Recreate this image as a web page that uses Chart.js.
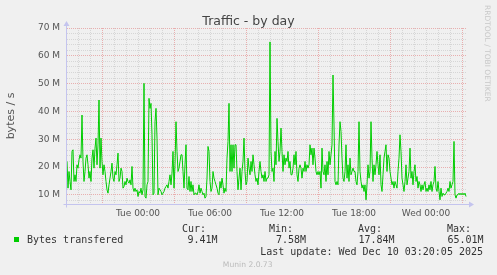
<!DOCTYPE html>
<html>
<head>
<meta charset="utf-8">
<title>Traffic - by day</title>
<script src="https://cdn.jsdelivr.net/npm/chart.js@4"></script>
<style>
  html, body { margin: 0; padding: 0; background: #f0f0f0; }
  #wrap { width: 497px; height: 275px; position: relative; }
</style>
</head>
<body>
<div id="wrap"><canvas id="traffic" width="497" height="275"></canvas></div>
<script>
// traffic.js - munin "Traffic - by day" graph

// 5 minute samples, in millions of bytes/s, from Mon 18:05 to Wed 03:20
const firstSampleMin = -355;   // minutes relative to Tue 00:00
const sampleStepMin = 5;
const bytesM = [
    22.0, 12.4, 18.4, 14.8, 11.8, 25.6, 26.2, 14.8, 17.2, 14.8, 20.8, 19.6, 22.6, 24.4, 23.2, 38.7,
    22.0, 14.8, 18.4, 23.2, 24.4, 20.8, 16.0, 18.4, 14.8, 23.2, 26.2, 19.6, 26.8, 30.4, 20.8, 28.0,
    44.1, 19.6, 30.4, 22.0, 17.2, 20.8, 18.4, 14.8, 11.8, 10.6, 13.6, 16.0, 18.4, 21.4, 16.0, 14.8,
    18.4, 17.2, 20.8, 25.0, 14.8, 16.0, 19.6, 18.4, 12.4,
    13.0, 14.8, 13.6, 16.0, 14.8, 14.2, 15.4, 13.6, 20.2, 12.4, 11.2, 12.4, 11.2, 11.8, 9.4, 11.2,
    10.6, 12.4, 10.0, 11.8, 50.1, 9.4, 8.8, 13.6, 14.8, 44.7, 41.1, 42.9, 31.6, 10.0, 10.6, 36.3,
    41.1, 30.4, 10.0, 12.4, 11.8, 11.2, 10.0, 10.6, 11.2, 12.4, 13.0, 13.6, 12.4, 14.8, 17.2, 13.6,
    17.8, 25.6, 12.4, 20.8, 36.3, 25.6, 18.4, 19.6, 22.0, 24.4,
    24.4, 18.4, 12.4, 20.8, 28.0, 12.4, 11.8, 16.6, 11.2, 14.8, 11.2, 13.6, 10.0, 10.6, 10.6, 10.0,
    11.2, 13.6, 10.6, 12.4, 11.2, 10.0, 10.6, 8.8, 9.4, 16.0, 27.4, 25.6, 14.8, 11.2, 12.4, 18.4,
    16.0, 14.8, 13.6, 12.4, 10.6, 10.0, 14.8, 12.4, 16.0, 13.6, 10.6, 12.4, 11.2, 23.2, 29.2, 42.9,
    18.4, 28.0, 18.4, 28.0, 19.6, 28.0, 28.0, 18.4, 11.8, 16.0,
    19.6, 11.8, 18.4, 22.0, 30.4, 18.4, 13.6, 14.8, 23.2, 19.6, 17.2, 22.0, 18.4, 24.4, 20.8, 17.2,
    14.8, 16.0, 13.6, 18.4, 22.0, 18.4, 16.0, 17.2, 14.8, 18.4, 14.8, 16.0, 16.0, 17.2, 65.0, 25.6,
    18.4, 19.6, 14.8, 25.6, 20.8, 37.5, 29.2, 22.0, 25.6, 34.0, 25.6, 18.4, 24.4, 20.8, 23.2, 22.0,
    25.6, 19.6, 22.0, 17.2, 17.2, 19.6, 24.4, 20.8, 25.6, 17.2,
    14.8, 19.6, 20.8, 19.6, 16.0, 19.6, 18.4, 22.0, 18.4, 20.8, 19.6, 20.8, 28.0, 24.4, 26.8, 20.8,
    26.8, 23.2, 18.4, 17.2, 18.4, 17.2, 18.4, 12.4, 26.8, 18.4, 17.2, 20.8, 14.8, 22.0, 17.2, 25.6,
    20.8, 24.4, 28.0, 53.1, 35.1, 14.8, 13.6, 14.8, 13.6, 28.0, 36.3, 32.8, 23.2, 16.0, 14.8, 18.4,
    28.0, 16.0, 20.8, 14.8, 23.2, 17.2, 18.4, 19.6, 18.4, 18.4,
    14.8, 13.6, 18.4, 36.3, 18.4, 14.8, 12.4, 13.6, 11.2, 13.6, 8.2, 13.6, 20.8, 16.0, 18.4, 36.3,
    23.2, 14.8, 20.8, 17.2, 20.8, 25.6, 20.8, 17.2, 24.4, 13.6, 11.2, 17.2, 23.2, 25.6, 28.0, 18.4,
    24.4, 23.2, 18.4, 16.0, 13.6, 14.8, 12.4, 14.8, 13.6, 12.4, 18.4, 23.2, 31.6, 25.6, 16.0, 13.6,
    11.2, 14.8, 20.8, 13.6, 16.0, 18.4, 26.8, 16.0, 18.4, 13.6,
    18.4, 20.8, 14.8, 16.6, 12.4, 14.8, 13.6, 11.2, 13.6, 11.8, 13.6, 14.8, 11.2, 12.4, 11.2, 13.6,
    11.8, 14.8, 11.2, 13.6, 14.8, 20.2, 12.4, 11.2, 14.8, 11.2, 8.2, 12.4, 9.4, 10.6, 10.0, 10.0,
    10.6, 11.2, 12.4, 11.2, 14.8, 12.4, 13.6, 14.8, 29.2, 10.0, 8.8, 10.0, 10.0, 10.6, 10.0, 10.6,
    10.0, 10.6, 10.0, 10.6, 9.4
];

const hourLabelTimes = [0, 360, 720, 1080, 1440];
const hourLabels = ['Tue 00:00', 'Tue 06:00', 'Tue 12:00', 'Tue 18:00', 'Wed 00:00'];
const yLabelValues = [10, 20, 30, 40, 50, 60, 70];

const seriesName = 'Bytes transfered';
const legendHeaders = ['Cur:', 'Min:', 'Avg:', 'Max:'];
const legendValues = ['9.41M', '7.58M', '17.84M', '65.01M'];
const lastUpdate = 'Last update: Wed Dec 10 03:20:05 2025';

const MINOR = 'rgba(140,140,140,0.26)';
const MAJOR = 'rgba(220,60,60,0.36)';
const AXIS = '#c4c4ee';

const points = bytesM.map((v, i) => ({ x: firstSampleMin + i * sampleStepMin, y: v }));

// axis lines, arrows, title and rrdtool style legend
const frame = {
    id: 'frame',
    afterDraw(chart) {
        const c = chart.ctx;
        const a = chart.chartArea;
        const ax = a.left - 0.5;
        const ay = a.bottom + 0.5;
        c.save();
        c.strokeStyle = AXIS;
        c.fillStyle = AXIS;
        c.lineWidth = 1;
        c.beginPath();
        c.moveTo(ax, ay + 3);
        c.lineTo(ax, a.top - 4);
        c.moveTo(ax - 3, ay);
        c.lineTo(a.right + 3, ay);
        c.stroke();
        c.beginPath();
        c.moveTo(ax, a.top - 7);
        c.lineTo(ax - 3, a.top - 2);
        c.lineTo(ax + 3, a.top - 2);
        c.closePath();
        c.fill();
        c.beginPath();
        c.moveTo(a.right + 7, ay);
        c.lineTo(a.right + 2, ay - 3);
        c.lineTo(a.right + 2, ay + 3);
        c.closePath();
        c.fill();

        c.fillStyle = '#444';
        c.font = '12.5px "DejaVu Sans"';
        c.textAlign = 'center';
        c.textBaseline = 'alphabetic';
        c.fillText('Traffic - by day', 248.5, 24.5);

        c.save();
        c.translate(485, 5);
        c.rotate(Math.PI / 2);
        c.font = '7.5px "DejaVu Sans"';
        c.fillStyle = '#c8c8c8';
        c.textAlign = 'left';
        c.fillText('RRDTOOL / TOBI OETIKER', 0, 0);
        c.restore();

        c.fillStyle = '#00cc00';
        c.fillRect(14, 237, 5, 5);

        c.fillStyle = '#333';
        c.font = '10px "DejaVu Sans Mono"';
        c.textAlign = 'left';
        c.fillText(seriesName, 27, 243);
        const headX = [182, 269, 358, 447];
        const valRight = [217.5, 306, 394.5, 483.5];
        legendHeaders.forEach((h, i) => c.fillText(h, headX[i], 232.3));
        c.textAlign = 'right';
        legendValues.forEach((v, i) => c.fillText(v, valRight[i], 243));
        c.fillText(lastUpdate, 483, 254.7);

        c.fillStyle = '#bbb';
        c.font = '7.6px "DejaVu Sans"';
        c.textAlign = 'center';
        c.fillText('Munin 2.0.73', 247.7, 267);
        c.restore();
    }
};

const tickFont = { family: 'DejaVu Sans', size: 9 };

new Chart(document.getElementById('traffic'), {
    type: 'line',
    data: {
        datasets: [{
            label: seriesName,
            data: points,
            borderColor: '#00cc00',
            borderWidth: 1,
            pointRadius: 0,
            tension: 0,
            fill: false
        }]
    },
    options: {
        responsive: false,
        animation: false,
        devicePixelRatio: 1,
        layout: { padding: { top: 28, right: 30, left: 0, bottom: 0 } },
        plugins: {
            legend: { display: false },
            tooltip: { enabled: false },
            title: { display: false }
        },
        scales: {
            x: {
                type: 'linear',
                min: firstSampleMin,
                max: firstSampleMin + 400 * sampleStepMin,
                afterBuildTicks: s => {
                    s.ticks = [];
                    for (let m = -300; m <= 1620; m += 60) s.ticks.push({ value: m });
                },
                afterFit: s => { s.height = 71; },
                ticks: {
                    autoSkip: false,
                    maxRotation: 0,
                    padding: 4,
                    color: '#555',
                    font: tickFont,
                    callback: v => {
                        const k = hourLabelTimes.indexOf(v);
                        return k >= 0 ? hourLabels[k] : '';
                    }
                },
                grid: {
                    drawTicks: false,
                    color: c => (c.tick && (c.tick.value + 180) % 360 === 0 ? MAJOR : MINOR)
                },
                border: { display: false, dash: [1, 1] }
            },
            y: {
                min: 6.7,
                max: 70,
                afterBuildTicks: s => {
                    s.ticks = [];
                    for (let v = 8; v <= 70; v += 2) s.ticks.push({ value: v });
                },
                afterFit: s => { s.width = 67; },
                ticks: {
                    autoSkip: false,
                    padding: 7,
                    color: '#555',
                    font: tickFont,
                    callback: v => (yLabelValues.includes(v) ? v + ' M' : '')
                },
                grid: {
                    drawTicks: false,
                    color: c => (c.tick && c.tick.value % 10 === 0 ? MAJOR : MINOR)
                },
                border: { display: false, dash: [1, 1] },
                title: {
                    display: true,
                    text: 'bytes / s',
                    color: '#555',
                    font: { family: 'DejaVu Sans', size: 11 },
                    padding: { top: 5, bottom: 0 }
                }
            }
        }
    },
    plugins: [frame]
});
</script>
</body>
</html>
